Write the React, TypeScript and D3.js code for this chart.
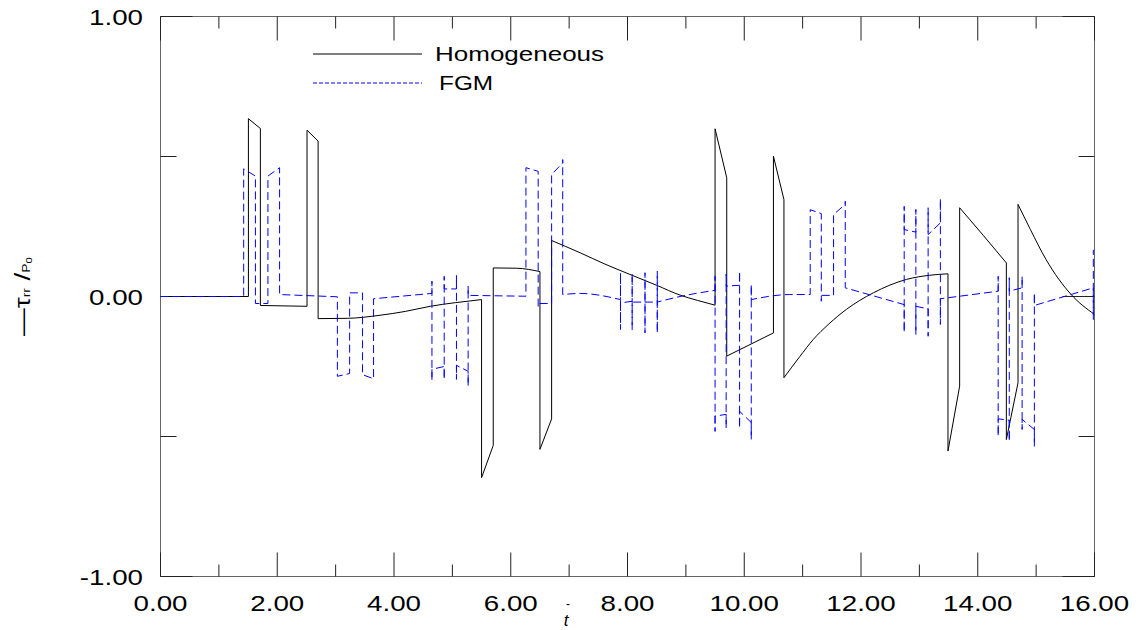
import React from 'react';
import * as d3 from 'd3';

const X_MAJOR = [0, 2, 4, 6, 8, 10, 12, 14, 16];
const X_MINOR = [1, 3, 5, 7, 9, 11, 13, 15];
const Y_MAJOR = [1, 0, -1];
const Y_MINOR = [0.5, -0.5];

const homogeneous: [number, number][] = [
  [0, 0], [1.506, 0], [1.506, 0.635], [1.711, 0.6], [1.711, -0.032], [2.51, -0.035],
  [2.51, 0.594], [2.7, 0.555], [2.7, -0.079], [3.2, -0.078], [3.76, -0.067], [4.2, -0.053],
  [4.62, -0.035], [5.05, -0.022], [5.5, -0.011], [5.5, -0.647], [5.7, -0.532], [5.7, 0.102],
  [6.1, 0.101], [6.5, 0.089], [6.5, -0.546], [6.7, -0.437], [6.7, 0.2], [7.19, 0.156],
  [7.6, 0.117], [8.04, 0.079], [8.5, 0.04], [8.9, 0.005], [9.2, -0.014], [9.5, -0.031],
  [9.5, 0.599], [9.7, 0.424], [9.7, -0.213], [10.5, -0.13], [10.5, 0.501], [10.68, 0.346],
  [10.68, -0.29], [10.95, -0.215], [11.18, -0.154], [11.45, -0.098], [11.75, -0.046],
  [12.21, 0.013], [12.78, 0.061], [13.18, 0.076], [13.49, 0.081], [13.49, -0.552],
  [13.69, -0.32], [13.69, 0.317], [14.1, 0.217], [14.49, 0.12], [14.49, -0.511],
  [14.69, -0.308], [14.69, 0.329], [14.9, 0.24], [15.17, 0.132], [15.6, 0.007], [16, -0.064],
];

const fgm: [number, number][] = [
  [0, 0], [1.425, 0], [1.425, 0.456], [1.626, 0.43], [1.626, -0.025], [1.84, -0.025],
  [1.84, 0.43], [2.04, 0.46], [2.04, 0.007], [3.03, -0.001], [3.03, -0.285], [3.24, -0.275],
  [3.24, 0.013], [3.46, 0.013], [3.46, -0.279], [3.65, -0.294], [3.65, -0.008], [4.65, 0.011],
  [4.65, 0.055], [4.65, -0.3], [4.65, -0.26], [4.86, -0.25], [4.86, -0.296], [4.86, 0.072],
  [4.86, 0.027], [5.07, 0.027], [5.07, 0.075], [5.07, -0.296], [5.07, -0.246], [5.27, -0.267],
  [5.27, -0.32], [5.27, 0.037], [5.27, 0.004], [6.26, 0.001], [6.26, 0.46], [6.47, 0.447],
  [6.47, -0.035], [6.47, -0.025], [6.7, -0.025], [6.7, 0.436], [6.89, 0.477], [6.89, 0.489],
  [6.89, 0.007], [7.19, 0.011], [7.88, -0.011], [7.88, 0.085], [7.88, -0.118], [7.88, -0.023],
  [8.08, -0.017], [8.08, 0.082], [8.08, -0.118], [8.08, -0.02], [8.3, -0.02], [8.3, 0.085],
  [8.3, -0.13], [8.3, -0.02], [8.51, -0.02], [8.51, 0.09], [8.51, -0.13], [8.51, -0.02],
  [8.9, 0.0], [9.5, 0.022], [9.5, 0.072], [9.5, -0.482], [9.5, -0.427], [9.69, -0.421],
  [9.69, -0.47], [9.69, 0.08], [9.69, 0.037], [9.92, 0.04], [9.92, 0.09], [9.92, -0.47],
  [9.92, -0.41], [10.12, -0.45], [10.12, -0.51], [10.12, 0.043], [10.12, -0.011],
  [10.78, 0.007], [11.13, 0.007], [11.13, 0.31], [11.32, 0.296], [11.32, -0.017],
  [11.32, 0.004], [11.53, 0.004], [11.53, 0.293], [11.73, 0.329], [11.73, 0.34],
  [11.73, 0.031], [12.74, -0.029], [12.74, -0.128], [12.74, 0.322], [12.74, 0.239],
  [12.94, 0.23], [12.94, 0.311], [12.94, -0.136], [12.94, -0.035], [13.15, -0.044],
  [13.15, -0.142], [13.15, 0.317], [13.15, 0.221], [13.36, 0.263], [13.36, 0.349],
  [13.36, -0.1], [13.36, -0.008], [14.35, 0.019], [14.35, 0.072], [14.35, -0.499],
  [14.35, -0.437], [14.54, -0.442], [14.54, -0.517], [14.54, 0.067], [14.54, 0.019],
  [14.76, 0.031], [14.76, 0.072], [14.76, -0.475], [14.76, -0.439], [14.97, -0.475],
  [14.97, -0.535], [14.97, 0.013], [14.97, -0.032], [15.98, 0.031], [15.98, -0.082],
  [15.98, 0.165], [16, 0.165],
];

const LEGEND = ['Homogeneous', 'FGM'];

const FONT = '"Liberation Sans", Arial, sans-serif';

// One continuous path: runs of strictly increasing t are smoothed with
// monotone interpolation, jumps (repeated t) are drawn straight.
function buildPath(
  data: [number, number][],
  x: d3.ScaleLinear<number, number>,
  y: d3.ScaleLinear<number, number>
): string {
  const runs: [number, number][][] = [];
  let cur: [number, number][] = [];
  data.forEach((p, i) => {
    if (i > 0 && p[0] <= data[i - 1][0]) {
      runs.push(cur);
      cur = [];
    }
    cur.push(p);
  });
  runs.push(cur);
  const gen = d3
    .line<[number, number]>()
    .x(d => x(d[0]))
    .y(d => y(d[1]))
    .curve(d3.curveMonotoneX);
  return runs
    .map((r, i) => {
      if (r.length === 1) {
        const c = `${x(r[0][0])},${y(r[0][1])}`;
        return (i === 0 ? 'M' : 'L') + c;
      }
      const s = (gen(r) || '').replace(/Z/g, '');
      return i === 0 ? s : 'L' + s.slice(1);
    })
    .join('');
}

export default function App() {
  const W = 1141;
  const H = 630;
  const x = d3.scaleLinear().domain([0, 16]).range([160.5, 1094.5]);
  const y = d3.scaleLinear().domain([-1, 1]).range([576.5, 16.5]);
  const [x0, x1] = x.range();
  const [y0, y1] = [y(1), y(-1)];
  const tickColor = '#222';

  return (
    <svg width={W} height={H} style={{ position: 'absolute', left: 0, top: 0, background: '#fff' }}>
      <defs>
        <clipPath id="plot">
          <rect x={x0} y={y0} width={x1 - x0} height={y1 - y0} />
        </clipPath>
      </defs>
      <rect x={0} y={0} width={W} height={H} fill="#fff" />
      {/* frame */}
      <rect x={x0} y={y0} width={x1 - x0} height={y1 - y0} fill="none" stroke="#666" strokeWidth={1} />
      {/* x ticks bottom & top */}
      {X_MAJOR.map(t => (
        <g key={'xm' + t}>
          <line x1={x(t)} x2={x(t)} y1={y1} y2={y1 - 24} stroke={tickColor} />
          <line x1={x(t)} x2={x(t)} y1={y0} y2={y0 + 24} stroke={tickColor} />
        </g>
      ))}
      {X_MINOR.map(t => (
        <g key={'xn' + t}>
          <line x1={x(t)} x2={x(t)} y1={y1} y2={y1 - 12} stroke={tickColor} />
          <line x1={x(t)} x2={x(t)} y1={y0} y2={y0 + 12} stroke={tickColor} />
        </g>
      ))}
      {/* y ticks left & right */}
      {Y_MAJOR.map(v => (
        <g key={'ym' + v}>
          <line x1={x0} x2={x0 + 32} y1={y(v)} y2={y(v)} stroke={tickColor} />
          <line x1={x1} x2={x1 - 32} y1={y(v)} y2={y(v)} stroke={tickColor} />
        </g>
      ))}
      {Y_MINOR.map(v => (
        <g key={'yn' + v}>
          <line x1={x0} x2={x0 + 16} y1={y(v)} y2={y(v)} stroke={tickColor} />
          <line x1={x1} x2={x1 - 16} y1={y(v)} y2={y(v)} stroke={tickColor} />
        </g>
      ))}
      {/* tick labels */}
      {X_MAJOR.map(t => (
        <text key={'xl' + t} transform={`translate(${x(t)},611) scale(1.26,1)`} textAnchor="middle"
          fontFamily={FONT} fontSize={22} fill="#000">{t.toFixed(2)}</text>
      ))}
      {Y_MAJOR.map(v => (
        <text key={'yl' + v} transform={`translate(143,${y(v) + 8}) scale(1.26,1)`} textAnchor="end"
          fontFamily={FONT} fontSize={22} fill="#000">{v.toFixed(2)}</text>
      ))}
      {/* axis titles */}
      <text x={568} y={608} textAnchor="middle" fontFamily={FONT} fontSize={12} fill="#000">-</text>
      <text x={566} y={626} textAnchor="middle" fontFamily={FONT} fontSize={17} fontStyle="italic" fill="#000">t</text>
      <text transform="translate(30,336) rotate(-90) scale(1.26,1)" fontFamily={FONT} fontSize={22} fill="#000">
        <tspan>—τ</tspan>
        <tspan fontSize={11}>rr</tspan>
        <tspan fontSize={22}> /</tspan>
        <tspan fontSize={11}>P</tspan>
        <tspan fontSize={9} dy={2}>0</tspan>
      </text>
      {/* data */}
      <g clipPath="url(#plot)">
        <path d={buildPath(homogeneous, x, y)} fill="none" stroke="#000" strokeWidth={1} />
        <path d={buildPath(fgm, x, y)} fill="none" stroke="#0000ff" strokeWidth={1} strokeDasharray="8,4" />
      </g>
      {/* legend */}
      <line x1={313} x2={422} y1={54} y2={54} stroke="#000" strokeWidth={1.2} />
      <text transform="translate(435,61) scale(1.3,1)" fontFamily={FONT} fontSize={20} fill="#000">{LEGEND[0]}</text>
      <line x1={313} x2={422} y1={83} y2={83} stroke="#0000ff" strokeWidth={1.2} strokeDasharray="4,2" />
      <text transform="translate(439,89.5) scale(1.22,1)" fontFamily={FONT} fontSize={20} fill="#000">{LEGEND[1]}</text>
    </svg>
  );
}
